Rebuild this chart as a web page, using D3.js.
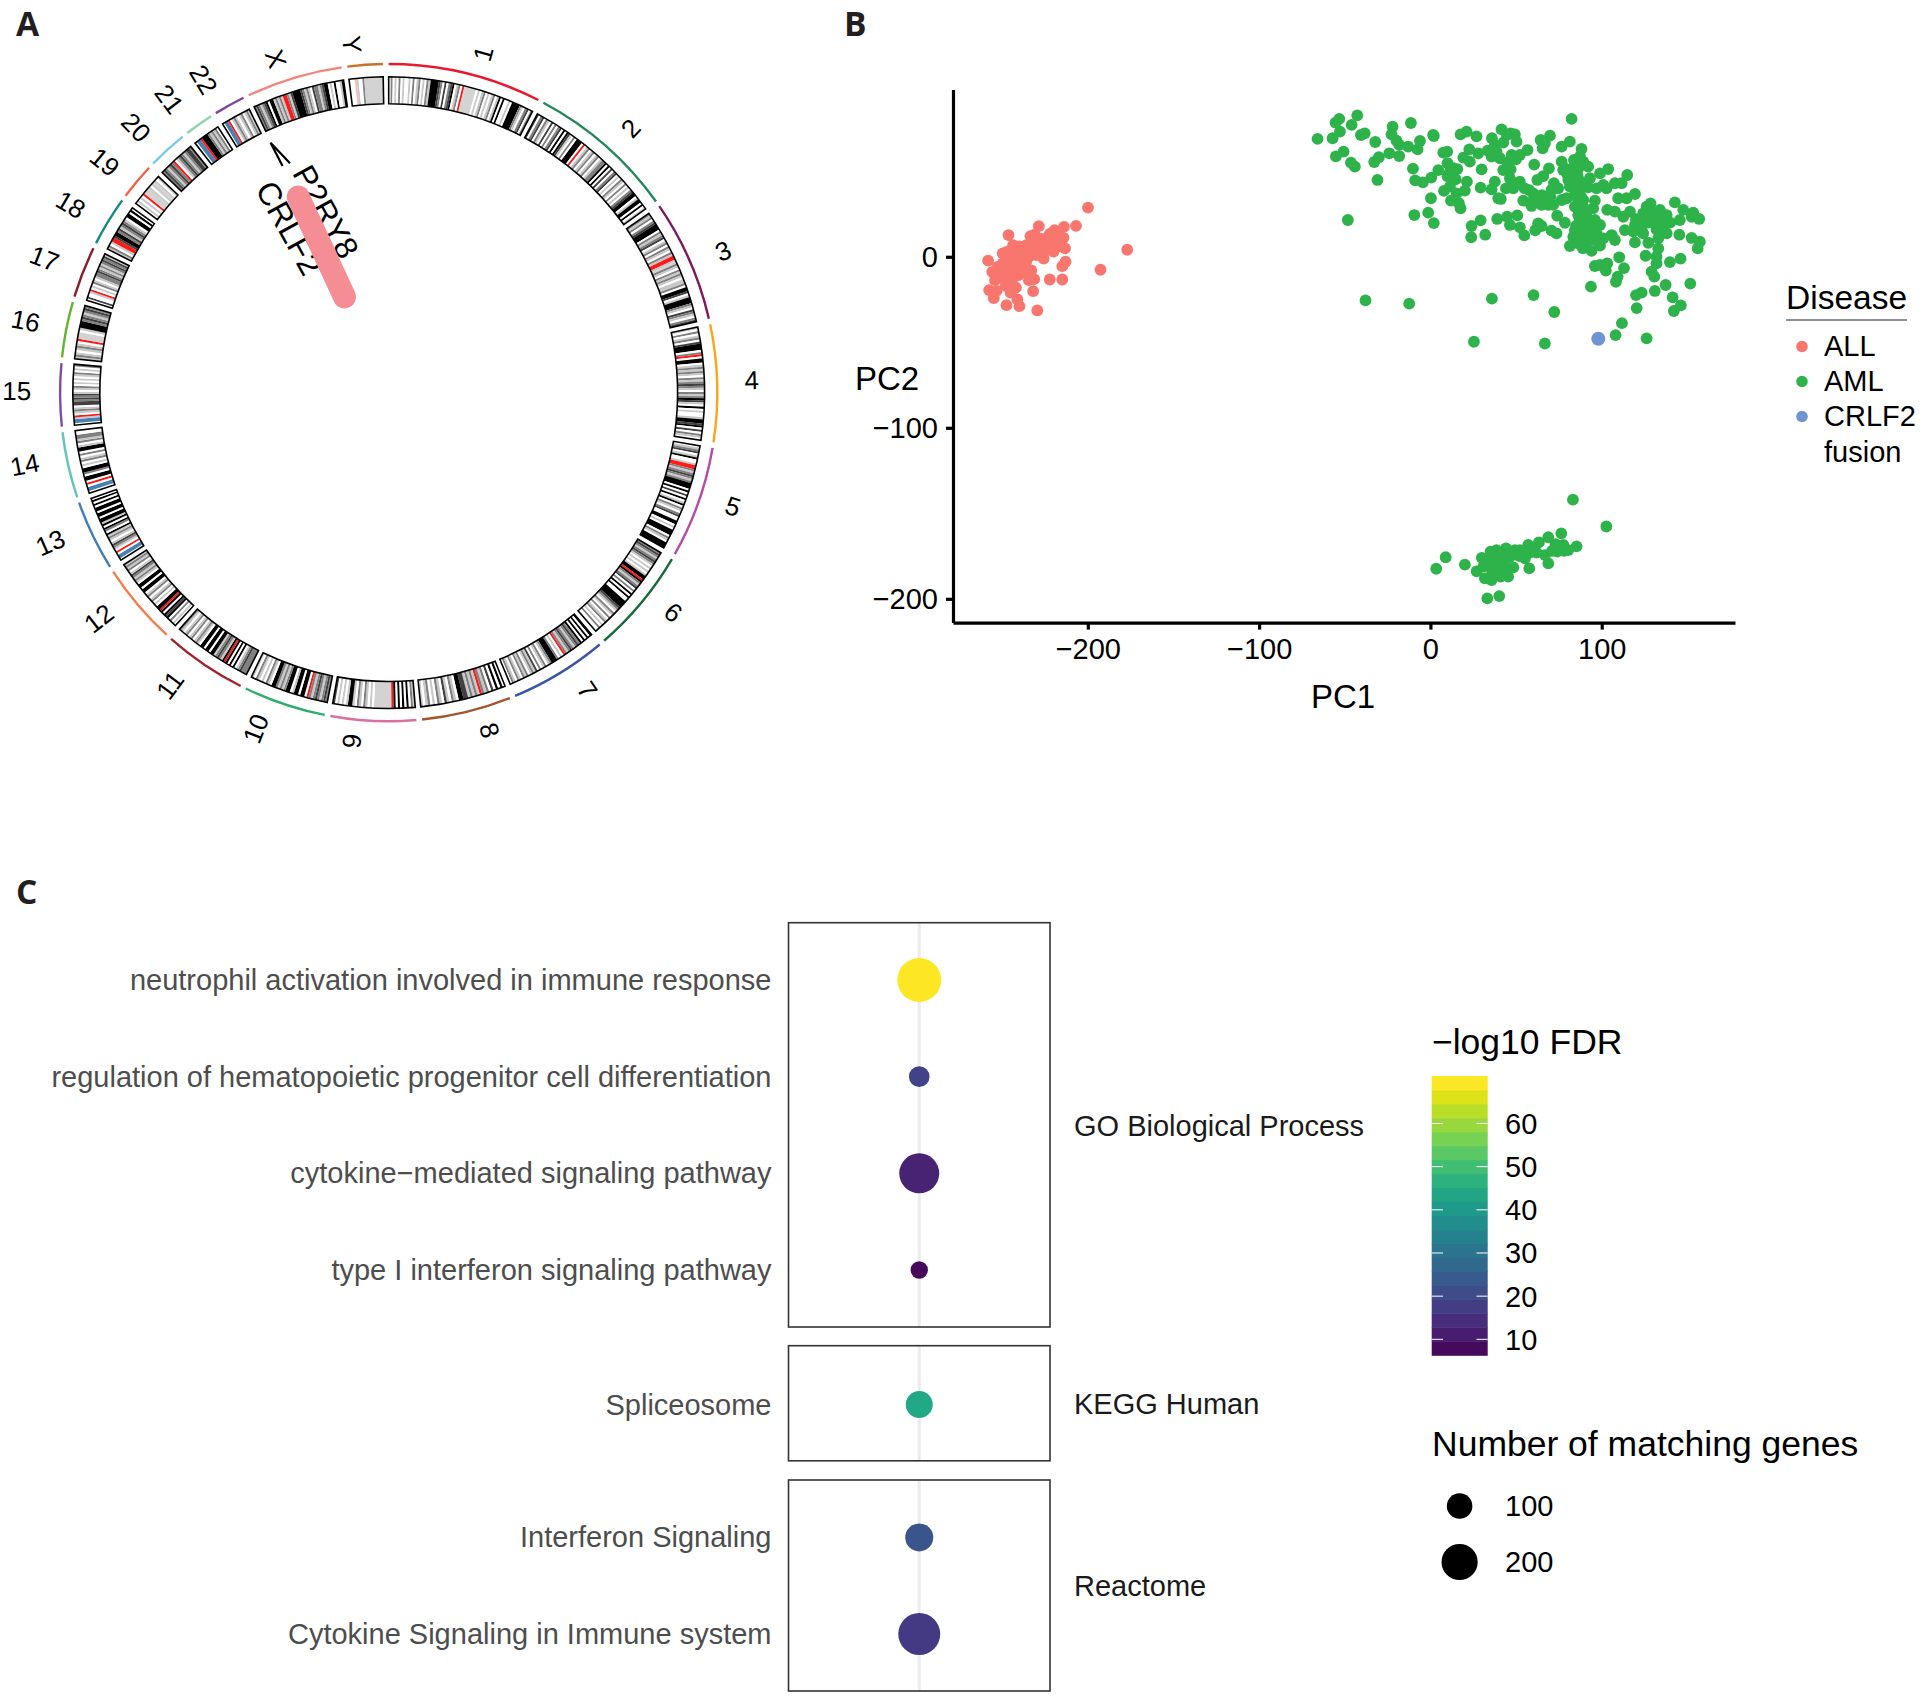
<!DOCTYPE html>
<html><head><meta charset="utf-8">
<script src="https://cdn.jsdelivr.net/npm/d3@7"></script>
<style>html,body{margin:0;padding:0;background:#fff}svg{display:block}text{font-family:"Liberation Sans",Arial,sans-serif}</style>
</head><body><div id="chart"></div>
<script>
// ---------- Panel A data ----------
const chromNames=["1","2","3","4","5","6","7","8","9","10","11","12","13","14","15","16","17","18","19","20","21","22","X","Y"];
const chromMb=[248.96,242.19,198.3,190.21,181.54,170.81,159.35,145.14,138.39,133.8,135.09,133.28,114.36,107.04,101.99,90.34,83.26,80.37,58.62,64.44,46.71,50.82,156.04,57.23];
const chromColors=["#e8192c","#23875a","#7b1a5c","#fba41c","#b24da5","#176a3c","#3a55a5","#a2552d","#d96fa3","#2eae6d","#a1232c","#f57c4b","#3f7db8","#62c4bd","#7d4ea1","#63b52e","#8a1b2a","#0f8a85","#f26148","#79c9ea","#8ed2b2","#7b44a2","#f5847b","#c9702a"];
const chromBands=[
"wmwlwmwlwwlwmwlmwlwmlkkkkdmwdwmdkwlmwrsssssswlwlmwlwlmwlkwkwwlwkkkkmlwmdwm",
"dwmdwmlwdwmwmdwkwkdlwmwkkkwrwlmwlmwlmwlmmkwkwdwmdwlwmlwmwlwmdkkwlkkwkwl",
"mlmwmdkkkwmlmdwlmwmlwmlrrlsmlwmlmlwllmwkkdwlkkkmlwdmlwmd",
"lwmwlmwdkkkwmrwkkwlmlmlwmlmdmlwmlmkdlwkwlwwlkkdkwdwmlw",
"wlmdwlkwwlrrmlmdmlmkkkwkwdwkwlkwmlwmdwwkkwlwkkkwmlwkkk",
"mdmlmdmlwlwlwlkkrkmlmdwmwkwkwwkkkkdmlwmlwmwlmwlwmww",
"kwkwkwkmdmlmdmlmrwlwmkkkmlwmlwmwdlmlwmlmwlmwlmw",
"wkwkwdwmlmrlmlmlddkkwlmwldwlmwlwmlwl",
"lmwkwkwkwkrsssssssswlwlmwlmwlkklwlwlwd",
"mdmlmdmlmrwkkwkklwkkmlmlmkkwlmwlwlmwl",
"mmmdmlwkwkwkrklmdmlkkwkkwkkwlmlwmlwmlwlm",
"wlwmwkdkwkrkkwlwmlwmlwkkwkkwlmlmdlwmlml",
"wbbwrwlmdlwlmlkwmkwklkkwkkwkkwkwkw",
"wbbwrwkkwmkkwlwmlwmwkklwmlmmww",
"wbblrwlmlwddmdmdlwlmwlwlwlmwlwm",
"lmlwlmlwrssswlkkkmdmlmdm",
"wdwwlrwlwmlwlmmdmlmlmdmdl",
"lmwlrrdkkmdlmdmlwkkwkw",
"wlwlwrssslwlslwl",
"mdmlmdmrwlmdmlmddm",
"wbbrkkkmlmlmw",
"wbbrwlmlwlmwlml",
"mdmlmdkwkklmlmlrrmldkkkkdmlmlwdmmlmdkkwlwkwwlk",
"wwwplwwmssssssssss"];
const bandFill={w:"#ffffff",l:"#c8c8c8",m:"#808080",d:"#404040",k:"#000000",r:"#ff1a1a",b:"#4682b4",s:"#d3d3d3",p:"#f6b8b8"};
const ringGapDeg=1;
const chromLabelNudge=[[10,12],[4,7],[4,4],[2,-2],[4,-7],[7,-11],[11,-11],[15,-13],[-20,-12],[-16,-13],[-12,-12],[-9,-12],[-7,-10],[-5,-9],[-4,-4],[-2,-1],[-2,1],[-4,4],[-2,6],[-5,7],[-7,7],[-7,9],[-9,12],[-11,12]];
const geneLabels=["P2RY8","CRLF2"];
const geneLabelPolar=[[340.8,191.5],[328.8,192.4]];
const linkAngle=335.2, linkRadii=[105.4,215.5];
const leaderPolar=[[334.9,250.2],[334.7,276.4],[336.7,249.6]];

// ---------- Panel B data (PC1, PC2) ----------
const diseaseLevels=["ALL","AML","CRLF2"];
const diseaseColors=["#f8766d","#2db34a","#6f94d2"];
const allPoints=[[-199.9,28.7],[-206.9,18.1],[-213.9,17.5],[-219.4,15.6],[-228.6,17.9],[-222.2,13.3],[-246.3,12.7],[-233.5,12.1],[-214.2,11.1],[-177,4.1],[-192.6,-7.6],[-213,-2.9],[-214.9,-5.5],[-213.3,4.9],[-217.6,5.9],[-226.2,9.8],[-223.7,6.8],[-229.8,7.8],[-229.8,3.9],[-225.8,-1],[-235.9,6.8],[-243.6,6.8],[-249.7,2],[-240.5,2],[-234.4,0],[-258.2,-2.3],[-255.8,-8.8],[-246.6,-2],[-240.5,-3.9],[-252.7,-5.9],[-248.1,-8.8],[-243.5,-7.8],[-237.4,-5.9],[-254.2,-13.7],[-246.6,-14.6],[-234.4,-13.7],[-231.3,-13.1],[-222.2,-13.3],[-214.9,-13.3],[-257.6,-19.5],[-253.3,-19.9],[-243.6,-16.6],[-245.1,-20.9],[-231.9,-20.1],[-254.9,-24.2],[-241.1,-25],[-247.5,-28.3],[-239.9,-28.9],[-229.5,-31.4],[-249.7,-3.9],[-245.1,1],[-239,-1],[-251.2,-10.7],[-240.5,-10.7],[-246.6,-5.9],[-228.3,10.7],[-220.7,9.8],[-216.7,13.3],[-237.4,4.9],[-232.9,8.8],[-223.7,3.9],[-248.1,-13.7],[-243.6,-11.7],
[-244,-2],[-250,-8],[-247,3],[-240,6],[-235,3],[-230,1],[-226,4],[-220,3],[-245,-12],[-252,-11],[-238,-9],[-242,-18],[-248,-17],[-231,13],[-224,11],[-218,10],[-236,-3],[-233,-8]];
const amlPoints=[[-65.9,68.9],[-57.1,69.3],[-55.2,58.7],[-55.4,78.4],[-53.2,80.6],[-52.8,73.2],[-42.7,82.7],[-46,77.1],[-50.7,61.5],[-40.6,71.2],[-38.4,72.2],[-32.2,67.1],[-46.4,55],[-44.1,52.7],[-32.8,55.4],[-30.1,58.2],[-24,60.5],[-22.1,76.1],[-22.7,71.6],[-19.8,67.9],[-18.2,65.4],[-18.2,58.9],[-13,64.4],[-7.5,62.8],[-6.1,67.7],[-11.4,78.2],[1.6,71.2],[2,70.6],[-30.9,44.9],[-48.2,21.5],[-10.2,51.5],[-8.9,44.7],[-4.4,43.5],[0.5,46.3],[4.6,50.7],[7.5,60.9],[9.8,61.5],[10,54.7],[11.4,49.8],[15.7,51.3],[14.7,45.3],[21.3,43.9],[7.9,38.5],[11.4,41],[15.3,37.1],[20.1,38.7],[0.3,34.2],[-1.3,25.8],[-9.4,24.4],[2,19.7],[12,32.8],[16.6,31.3],[17.6,28.3],[17.6,71.6],[21.1,73.2],[26.9,70.4],[22.7,62.8],[19.2,58],[23,55.6],[27.9,60.5],[29.9,51.1],[33.4,62.1],[35.9,69.3],[37.6,65.4],[41.5,74.5],[44.5,71.2],[46.8,72.2],[49.3,71.6],[50.3,67.3],[42.5,66.7],[38.6,61.5],[40.6,57.6],[35.7,58.6],[47.4,59.5],[52.2,59.5],[56.7,62.4],[49.9,57],[60.6,53.9],[64.3,68.3],[69.8,70.8],[66.8,66.3],[65.5,63.4],[76.6,64.4],[42.5,50.7],[46.8,51.1],[46.4,45.9],[52.2,43.9],[48.3,40],[44.1,40],[37.6,43.9],[35.7,39.4],[29.3,40.4],[39.6,34.2],[41.1,33.8],[54.2,32.8],[57.7,39],[60,37.1],[62.4,44.9],[65.9,47.2],[69.2,51.7],[72.1,43],[70.7,39.1],[76.6,55.6],[77.5,50.7],[74.6,40],[76.6,33.2],[71.7,30.3],[68.8,30.3],[64.9,30.3],[59,29.7],[39,22.1],[44.8,23.4],[46.4,18.6],[50.7,24.2],[52.2,17.2],[54.8,12.5],[24,18],[23.8,11.4],[29.3,21.3],[32,12.9],[35.9,-24.5],[60.2,-22.4],[72.3,-32.3],[-37.9,-25.5],[-12.4,-27.4],[25.4,-49.7],[66.8,-50.7],
[82.4,80.6],[81.4,67.3],[88.2,63],[83.8,56.6],[87.3,58.6],[78.5,51.7],[82.4,50.7],[86.3,51.7],[89.2,55.6],[92.1,52.7],[80.5,44.9],[84.3,45.9],[87.3,43.9],[93.1,45.9],[99,48.8],[103.8,51.3],[107.7,43],[114.9,47.8],[111.6,43],[102.8,40],[97,40],[92.1,40.6],[87.3,39],[84.3,36.1],[79.5,34.2],[109.6,34.2],[114.5,34.2],[119.4,36.7],[103.2,27.4],[107.7,26.4],[112.6,23.4],[116.5,26.4],[96,32.8],[95,28.3],[84.3,29.3],[86.3,24.4],[74,24],[78.5,19.9],[70.7,15.3],[73.6,13.7],[62.9,19.5],[64.9,18],[61.2,15.5],[91.2,23.4],[87.3,21.5],[96,21.5],[99,18.6],[90.2,17.6],[84.3,15.6],[87.3,13.7],[93.1,14.7],[97,13.7],[92.1,9.8],[86.3,7.9],[81.4,6.3],[99,6.5],[100.9,10.8],[105.8,12.7],[107.7,9.8],[94.1,3.4],[113.5,15.6],[119.4,18.6],[118.4,14.7],[119.4,8.4],[124.2,13.7],[126.2,29.3],[128.5,31.2],[124.2,25.4],[128.1,23.4],[131,20.5],[134,27.4],[137.9,24.4],[142.7,31.8],[147.6,27.4],[145.6,21.5],[152.5,23.4],[153.4,25.8],[156.9,22.1],[135.9,18.6],[137.9,13.7],[133,10.8],[127.2,8.2],[145.3,12.9],[152.5,11],[157.3,8.8],[156,4.9],[133,4.9],[132,0],[132,-3.9],[125.6,0.6],[139.8,-3.1],[146,-1.1],[129.1,-8.7],[130.7,-11.6],[110.2,-0.3],[113,-6.6],[96,-5.4],[99,-4.8],[103.2,-3.9],[102.4,-8.1],[109.3,-11.6],[108.3,-14.6],[93.7,-17.5],[131,-20],[137.3,-16.5],[151.7,-15.7],[123.3,-21],[120,-22.4],[141.4,-23.7],[146.2,-28.4],[142.1,-31.7],[120.4,-30],[111.8,-38.8],[108.1,-45.8],[126.2,-47.7],
[82.4,47.8],[85.3,48.8],[81.4,41],[85.3,35.2],[89.2,33.2],[88.2,27.3],[89.2,11.7],[90.2,7.9],[95,17.6],[92.1,19.6],[87.3,17.6],[83.4,11.7],[100.9,42],
[84,53],[80,48],[86,47],[83,42],[88,35],[86,30],[90,28],[88,22],[85,18],[92,15],[95,10],[89,5],[84,9],[127,20],[130,26],[135,22],[132,16],[124,19],[140,20],[120,22],[10,47],[13,52],[45,55],[48,43],[55,40],[60,33],[65,36],[70,35],
[83.2,-142],[76.4,-161.7],[68.8,-164],[63.3,-167],[85.3,-169.3],[80.5,-171.5],[77.6,-168.5],[74,-172.4],[75.6,-169.5],[68.8,-179.3],[66.9,-174.4],[57.7,-182.2],[57.1,-168.5],[52.3,-171.5],[55.2,-176.3],[60,-170.5],[49.3,-171.5],[44.1,-170.5],[38.6,-171.5],[35.1,-172.4],[40.6,-175.4],[46.4,-175.4],[48.4,-181.6],[45.4,-187],[41.6,-183.2],[35.7,-189],[31.8,-188],[34.7,-181.2],[30.9,-181.2],[27,-183.9],[20.1,-180],[8.9,-175.7],[3.4,-182.4],[40.2,-198.4],[33.2,-199.7],[38.6,-179.3],[42.5,-179.3],[102.7,-157.7],
[37,-176],[43,-178],[36,-185],[44,-184],[30,-176],[47,-173],[52,-175],[33,-178],[38,-183],[41,-187],[58,-173],[62,-173],[78,-172],[71,-172],[73,-168]];
const crlf2Points=[[98,-47.9]];
const pcXTicks=[-200,-100,0,100];
const pcYTicks=[-200,-100,0];

// ---------- Panel C data ----------
const goTerms=["neutrophil activation involved in immune response","regulation of hematopoietic progenitor cell differentiation","cytokine\u2212mediated signaling pathway","type I interferon signaling pathway"];
const goGenes=[295,65,244,46];
const goFdr=[71,19,12.5,8];
const keggTerms=["Spliceosome"];
const keggGenes=[111];
const keggFdr=[45];
const reactomeTerms=["Interferon Signaling","Cytokine Signaling in Immune system"];
const reactomeGenes=[120,269];
const reactomeFdr=[23,17];
const fdrTicks=[10,20,30,40,50,60];
const fdrDomain=[6.3,71];
const fdrBins=20;
const sizeLegend=[100,200];

// ---------- Drawing ----------
const svg=d3.select("#chart").append("svg").attr("width",1920).attr("height",1697).attr("viewBox","0 0 1920 1697");
const panelLetter=(t,x,y)=>svg.append("text").text(t).attr("x",x).attr("y",y).style("font-family","'Open Sans',sans-serif").style("font-weight",700).style("font-size","33.5px").attr("fill","#231f20");
panelLetter("A",16,36);panelLetter("B",844,36);panelLetter("C",16,904);

// Panel A
const cx=388.7,cy=392.6;
const gA=svg.append("g").attr("transform",`translate(${cx},${cy})`);
const polar=(deg,r)=>{const a=deg*Math.PI/180;return [r*Math.sin(a),-r*Math.cos(a)];};
const mbToDeg=(360-ringGapDeg*chromMb.length)/d3.sum(chromMb);
let cursor=0;
const chroms=chromNames.map((n,i)=>{const s=cursor,e=s+chromMb[i]*mbToDeg;cursor=e+ringGapDeg;return {n,i,s,e,mid:(s+e)/2};});
const rad=d=>d*Math.PI/180;
const arc=d3.arc();
const R={barIn:327.4,barOut:329.8,bandIn:288.9,bandOut:315.9,label:354};
chroms.forEach(c=>{
  const code=chromBands[c.i];
  const pos=d3.scaleLinear().domain([0,code.length]).range([rad(c.s),rad(c.e)]);
  let runs=[],st=0;
  for(let k=1;k<=code.length;k++){ if(k===code.length||code[k]!==code[st]){runs.push({c:code[st],a:st,b:k});st=k;} }
  gA.append("path").attr("d",arc({innerRadius:R.bandIn,outerRadius:R.bandOut,startAngle:rad(c.s),endAngle:rad(c.e)})).attr("fill","#fff");
  gA.selectAll(null).data(runs).join("path")
    .attr("d",r=>arc({innerRadius:R.bandIn,outerRadius:R.bandOut,startAngle:pos(r.a),endAngle:pos(r.b)}))
    .attr("fill",r=>bandFill[r.c]);
  gA.append("path").attr("d",arc({innerRadius:R.bandIn,outerRadius:R.bandOut,startAngle:rad(c.s),endAngle:rad(c.e)}))
    .attr("fill","none").attr("stroke","#000").attr("stroke-width",1.6);
  gA.append("path").attr("d",arc({innerRadius:R.barIn,outerRadius:R.barOut,startAngle:rad(c.s),endAngle:rad(c.e)})).attr("fill",chromColors[c.i]);
  const left=c.mid>=180;
  const wid=(c.n.length>1?28:14)/2;
  const [bx,by]=polar(c.mid,R.label+wid);
  const lx=bx+chromLabelNudge[c.i][0], ly=by+chromLabelNudge[c.i][1];
  const theta=(Math.atan2(lx,-ly)*180/Math.PI+360)%360;
  gA.append("text").text(c.n)
    .attr("transform",`translate(${lx},${ly}) rotate(${theta>=180?theta+90:theta-90})`)
    .attr("text-anchor","middle").attr("dominant-baseline","central")
    .style("font-size","26px").attr("fill","#000");
});
gA.append("path").attr("d",d3.line()(leaderPolar.map(p=>polar(p[0],p[1])))).attr("fill","none").attr("stroke","#000").attr("stroke-width",2.2);
geneLabels.forEach((t,i)=>{const [x,y]=polar(geneLabelPolar[i][0],geneLabelPolar[i][1]);
  gA.append("text").text(t).attr("transform",`translate(${x},${y}) rotate(61)`).attr("text-anchor","middle").attr("dominant-baseline","central").style("font-size","32px").attr("fill","#000");});
gA.append("path").attr("d",d3.line()(linkRadii.map(r=>polar(linkAngle,r)))).attr("fill","none").attr("stroke","#f58e94").attr("stroke-width",23).attr("stroke-linecap","round");

// Panel B
const xPC=d3.scaleLinear().domain([-278.7,177.8]).range([953,1735]);
const yPC=d3.scaleLinear().domain([-213.9,97.8]).range([622.6,89.5]);
const styleAxis=g=>{g.selectAll("path,line").attr("stroke","#000").attr("stroke-width",3.2);g.selectAll("text").style("font-family","'Liberation Sans',sans-serif").style("font-size","29px").attr("fill","#000");};
const xAx=svg.append("g").attr("transform","translate(0,622.6)").call(d3.axisBottom(xPC).tickValues(pcXTicks).tickSize(7).tickSizeOuter(0).tickPadding(9)).call(styleAxis);
const yAx=svg.append("g").attr("transform","translate(953,0)").call(d3.axisLeft(yPC).tickValues(pcYTicks).tickSize(7).tickSizeOuter(0).tickPadding(8)).call(styleAxis);
[allPoints,amlPoints,crlf2Points].forEach((pts,i)=>{
  svg.append("g").selectAll("circle").data(pts).join("circle").attr("cx",d=>xPC(d[0])).attr("cy",d=>yPC(d[1])).attr("r",i===2?7:5.9).attr("fill",diseaseColors[i]);
});
const txt=(t,x,y,size,fill="#000",anchor="start")=>svg.append("text").text(t).attr("x",x).attr("y",y).attr("text-anchor",anchor).style("font-size",size+"px").attr("fill",fill);
txt("PC1",1343,708,33,"#000","middle");
txt("PC2",855,390,33);
txt("Disease",1786,309,33.5);
svg.append("line").attr("x1",1786).attr("x2",1907).attr("y1",320).attr("y2",320).attr("stroke","#222").attr("stroke-width",1.2);
const legY=d3.scalePoint().domain(diseaseLevels).range([346.5,416.5]);
diseaseLevels.forEach((d,i)=>{
  svg.append("circle").attr("cx",1802).attr("cy",legY(d)).attr("r",5.8).attr("fill",diseaseColors[i]);
  txt(d,1824,legY(d)+9.5,29);
});
txt("fusion",1824,461.5,29);

// Panel C
const xC=d3.scalePoint().domain(["enrichment"]).range([788.5,1050]).padding(.5);
const rGene=d3.scaleSqrt().domain([0,100]).range([0,12.8]);
const fdrColor=d3.scaleSequential(d3.interpolateViridis).domain(fdrDomain);
const facets=[
 {name:"GO Biological Process",terms:goTerms,genes:goGenes,fdr:goFdr,top:922.7,bottom:1327,range:[980,1270],labelY:1136},
 {name:"KEGG Human",terms:keggTerms,genes:keggGenes,fdr:keggFdr,top:1345.7,bottom:1460.8,range:[1404.5,1404.5],labelY:1414},
 {name:"Reactome",terms:reactomeTerms,genes:reactomeGenes,fdr:reactomeFdr,top:1480,bottom:1691,range:[1537.4,1634],labelY:1596}];
facets.forEach(f=>{
  svg.append("line").attr("x1",xC("enrichment")).attr("x2",xC("enrichment")).attr("y1",f.top).attr("y2",f.bottom).attr("stroke","#ebebeb").attr("stroke-width",3);
  svg.append("rect").attr("x",788.5).attr("y",f.top).attr("width",261.5).attr("height",f.bottom-f.top).attr("fill","none").attr("stroke","#333").attr("stroke-width",1.6);
  const yF=d3.scalePoint().domain(f.terms).range(f.range);
  f.terms.forEach((t,i)=>{
    svg.append("circle").attr("cx",xC("enrichment")).attr("cy",yF(t)).attr("r",rGene(f.genes[i])).attr("fill",fdrColor(f.fdr[i]));
    txt(t,771.5,yF(t)+10,29,"#4d4d4d","end");
  });
  txt(f.name,1074,f.labelY,29,"#1a1a1a");
});
// colour bar
txt("\u2212log10 FDR",1432,1054,35.5);
const yBar=d3.scaleLinear().domain(fdrDomain).range([1355.3,1076]);
const binEdges=d3.range(fdrBins).map(i=>fdrDomain[0]+(fdrDomain[1]-fdrDomain[0])*i/fdrBins);
const binW=(fdrDomain[1]-fdrDomain[0])/fdrBins;
svg.append("g").selectAll("rect").data(binEdges).join("rect").attr("x",1431.7).attr("width",56).attr("y",d=>yBar(d+binW)).attr("height",yBar(0)-yBar(binW)+.5).attr("fill",(d,i)=>d3.interpolateViridis(.025+.975*i/(fdrBins-1)));
fdrTicks.forEach(t=>{
  [[1431.7,1443],[1476.5,1487.7]].forEach(s=>svg.append("line").attr("x1",s[0]).attr("x2",s[1]).attr("y1",yBar(t)).attr("y2",yBar(t)).attr("stroke","#fff").attr("stroke-width",1));
  txt(t,1505,yBar(t)+10.5,29);
});
// size legend
txt("Number of matching genes",1432,1456,35.5);
const ySize=d3.scalePoint().domain(sizeLegend).range([1506,1562]);
sizeLegend.forEach(n=>{
  svg.append("circle").attr("cx",1459.6).attr("cy",ySize(n)).attr("r",rGene(n)).attr("fill","#000");
  txt(n,1505,ySize(n)+10,29);
});
</script></body></html>
